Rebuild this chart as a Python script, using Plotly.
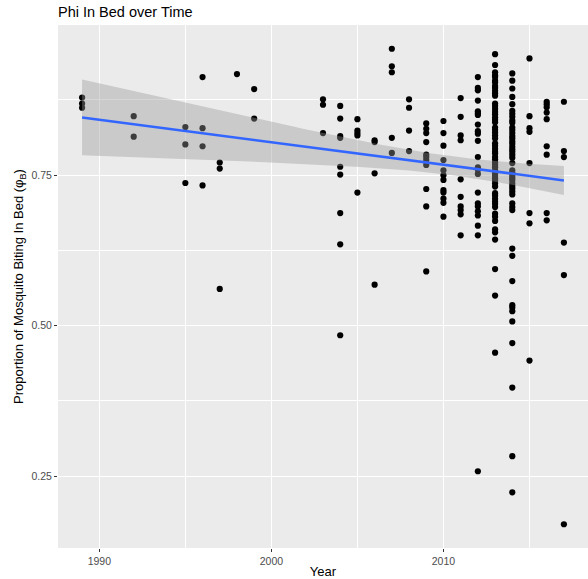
import numpy as np
import plotly.graph_objects as go

# ---- data (year -> proportion biting in bed) ----
years_by_col = [1989, 1992, 1995, 1996, 1997, 1998, 1999, 2003, 2004, 2005, 2006,
                2007, 2008, 2009, 2010, 2011, 2012, 2013, 2014, 2015, 2016, 2017]

phi_1989 = [0.879, 0.869, 0.862]
phi_1992 = [0.848, 0.814]
phi_1995 = [0.830, 0.801, 0.737]
phi_1996 = [0.913, 0.828, 0.798, 0.733]
phi_1997 = [0.771, 0.761, 0.561]
phi_1998 = [0.918]
phi_1999 = [0.893, 0.844]
phi_2003 = [0.876, 0.867, 0.820]
phi_2004 = [0.865, 0.844, 0.815, 0.812, 0.764, 0.751, 0.687, 0.635, 0.484]
phi_2005 = [0.843, 0.824, 0.820, 0.816, 0.721]
phi_2006 = [0.808, 0.805, 0.753, 0.568]
phi_2007 = [0.960, 0.931, 0.921, 0.812, 0.787]
phi_2008 = [0.876, 0.862, 0.824, 0.790]
phi_2009 = [0.836, 0.827, 0.820, 0.805, 0.784, 0.780, 0.775, 0.767, 0.727, 0.698, 0.590]
phi_2010 = [0.840, 0.820, 0.799, 0.775, 0.758, 0.750, 0.742, 0.725, 0.721, 0.711,
            0.704, 0.681]
phi_2011 = [0.878, 0.847, 0.816, 0.808, 0.743, 0.714, 0.698, 0.692, 0.685, 0.650]
phi_2012 = [0.913, 0.895, 0.891, 0.874, 0.856, 0.853, 0.850, 0.834, 0.823, 0.819,
            0.807, 0.780, 0.763, 0.759, 0.752, 0.721, 0.703, 0.698, 0.690, 0.683,
            0.666, 0.650, 0.258]
phi_2013 = [0.951, 0.933, 0.921, 0.916, 0.913, 0.907, 0.904, 0.898, 0.895, 0.890,
            0.886, 0.882, 0.869, 0.865, 0.860, 0.855, 0.851, 0.846, 0.842, 0.838,
            0.829, 0.825, 0.821, 0.816, 0.811, 0.803, 0.799, 0.794, 0.789, 0.786,
            0.780, 0.776, 0.771, 0.767, 0.763, 0.758, 0.753, 0.749, 0.745, 0.741,
            0.736, 0.731, 0.720, 0.716, 0.711, 0.706, 0.702, 0.697, 0.686, 0.681,
            0.674, 0.660, 0.655, 0.643, 0.594, 0.550, 0.455]
phi_2014 = [0.919, 0.907, 0.894, 0.880, 0.868, 0.857, 0.852, 0.847, 0.841, 0.837,
            0.829, 0.825, 0.820, 0.815, 0.811, 0.806, 0.802, 0.797, 0.793, 0.789,
            0.784, 0.779, 0.770, 0.758, 0.754, 0.749, 0.745, 0.741, 0.736, 0.732,
            0.728, 0.723, 0.718, 0.703, 0.697, 0.692, 0.628, 0.616, 0.574, 0.534,
            0.530, 0.524, 0.507, 0.471, 0.397, 0.283, 0.223]
phi_2015 = [0.944, 0.848, 0.828, 0.822, 0.770, 0.687, 0.670, 0.442]
phi_2016 = [0.872, 0.868, 0.863, 0.854, 0.843, 0.798, 0.784, 0.687, 0.675]
phi_2017 = [0.872, 0.790, 0.780, 0.638, 0.584, 0.170]

phi_cols = [phi_1989, phi_1992, phi_1995, phi_1996, phi_1997, phi_1998, phi_1999,
            phi_2003, phi_2004, phi_2005, phi_2006, phi_2007, phi_2008, phi_2009,
            phi_2010, phi_2011, phi_2012, phi_2013, phi_2014, phi_2015, phi_2016,
            phi_2017]

x_ticks = [1990, 2000, 2010]
y_ticks = [0.25, 0.50, 0.75]
y_tick_labels = ["0.25", "0.50", "0.75"]

# ---- assemble points ----
year = np.concatenate([[yr] * len(v) for yr, v in zip(years_by_col, phi_cols)]).astype(float)
phi = np.concatenate(phi_cols).astype(float)

# ---- linear model with 95% confidence band (like geom_smooth(method="lm")) ----
n = len(year)
slope, intercept = np.polyfit(year, phi, 1)
resid = phi - (intercept + slope * year)
s = np.sqrt(np.sum(resid ** 2) / (n - 2))
xbar = year.mean()
sxx = np.sum((year - xbar) ** 2)
t_crit = 1.97
xs = np.linspace(year.min(), year.max(), 80)
fit = intercept + slope * xs
se = s * np.sqrt(1.0 / n + (xs - xbar) ** 2 / sxx)
upper = fit + t_crit * se
lower = fit - t_crit * se

# ---- ranges with ggplot-like 5% expansion ----
xspan = year.max() - year.min()
yspan = phi.max() - phi.min()
x_range = [year.min() - 0.05 * xspan, year.max() + 0.05 * xspan]
y_range = [phi.min() - 0.05 * yspan, phi.max() + 0.05 * yspan]

fig = go.Figure()
fig.add_trace(go.Scatter(x=year, y=phi, mode="markers",
                         marker=dict(color="black", size=6.2, line=dict(width=0)),
                         hoverinfo="x+y"))
fig.add_trace(go.Scatter(x=np.concatenate([xs, xs[::-1]]),
                         y=np.concatenate([upper, lower[::-1]]),
                         fill="toself", fillcolor="rgba(153,153,153,0.4)",
                         line=dict(width=0), mode="lines", hoverinfo="skip"))
fig.add_trace(go.Scatter(x=xs, y=fit, mode="lines",
                         line=dict(color="#3366FF", width=2.5), hoverinfo="skip"))

font_family = "Liberation Sans, Arial, sans-serif"
fig.update_layout(
    width=588, height=579,
    margin=dict(l=58, r=0, t=25, b=31, pad=0),
    paper_bgcolor="white",
    plot_bgcolor="#EBEBEB",
    showlegend=False,
    font=dict(family=font_family, color="black"),
    title=dict(text="Phi In Bed over Time", x=58 / 588, xanchor="left",
               y=1 - 12 / 579, yanchor="middle",
               font=dict(size=14.5, color="black", family=font_family)),
)
fig.update_xaxes(
    range=x_range, tickvals=x_ticks, ticktext=[str(v) for v in x_ticks],
    showgrid=True, gridcolor="white", gridwidth=1.3, zeroline=False,
    ticks="outside", ticklen=3, tickcolor="#333333", tickwidth=1,
    tickfont=dict(size=10.5, color="#4D4D4D"),
    minor=dict(dtick=5, tick0=1985, showgrid=True, gridcolor="white", gridwidth=0.6, ticks=""),
    title=dict(text="Year", font=dict(size=13, color="black"), standoff=3),
    showline=False,
)
fig.update_yaxes(
    range=y_range, tickvals=y_ticks, ticktext=y_tick_labels,
    showgrid=True, gridcolor="white", gridwidth=1.3, zeroline=False,
    ticks="outside", ticklen=3, tickcolor="#333333", tickwidth=1,
    tickfont=dict(size=10.5, color="#4D4D4D"),
    minor=dict(dtick=0.125, tick0=0, showgrid=True, gridcolor="white", gridwidth=0.6, ticks=""),
    title=dict(text="Proportion of Mosquito Biting In Bed (φ<sub>B</sub>)",
               font=dict(size=13, color="black"), standoff=4),
    showline=False,
)

fig.write_html("out.html", config={"displayModeBar": False})

# remove the default page margin so the figure sits at the window's top-left corner
with open("out.html", "r", encoding="utf-8") as f:
    html = f.read()
html = html.replace("<head>", "<head><style>html,body{margin:0;padding:0;overflow:hidden;}</style>", 1)
with open("out.html", "w", encoding="utf-8") as f:
    f.write(html)
